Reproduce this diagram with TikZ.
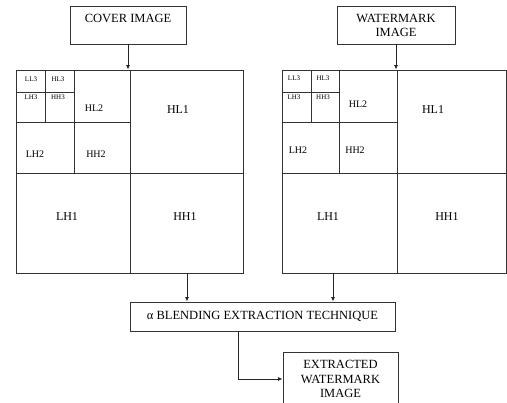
\documentclass[tikz,border=0pt]{standalone}
\usepackage{fontspec}
\setmainfont{Liberation Serif}
\usetikzlibrary{arrows.meta}
\begin{document}
\begin{tikzpicture}[x=1pt,y=-1pt,
 box/.style={draw=black!80, line width=0.9pt, rectangle, inner sep=0pt, align=center, font=\fontsize{12.5}{14}\selectfont},
 grid/.style={draw=black!80, line width=0.9pt},
 big/.style={font=\fontsize{12}{14}\selectfont, inner sep=0pt},
 mid/.style={font=\fontsize{10}{12}\selectfont, inner sep=0pt},
 small/.style={font=\fontsize{7}{8}\selectfont, inner sep=0pt},
 arr/.style={draw=black!85, line width=0.9pt, -{Latex[length=4.5pt,width=4pt]}}]
\useasboundingbox (0,0) rectangle (507,403);
\clip (0,0) rectangle (507,403);
% top boxes
\node[box, minimum width=116, minimum height=38, text depth=14pt] (cover) at (128,25) {COVER IMAGE};
\node[box, minimum width=118, minimum height=38] (wm) at (396,25) {WATERMARK\\IMAGE};
% big boxes
\node[box, minimum width=227, minimum height=203] (L) at (129.5,171.5) {};
\node[box, minimum width=224, minimum height=203] (R) at (394,171.5) {};
% left grid
\draw[grid] (130,70) -- (130,273);
\draw[grid] (16,173) -- (243,173);
\draw[grid] (74,70) -- (74,173);
\draw[grid] (16,122) -- (130,122);
\draw[grid] (45,70) -- (45,122);
\draw[grid] (16,92) -- (74,92);
% right grid
\draw[grid] (397,70) -- (397,273);
\draw[grid] (282,173) -- (506,173);
\draw[grid] (339,70) -- (339,173);
\draw[grid] (282,122) -- (397,122);
\draw[grid] (311,70) -- (311,122);
\draw[grid] (282,92) -- (339,92);
% left labels
\node[small] (lll3) at (31,79) {LL3};
\node[small] (lhl3) at (58,79) {HL3};
\node[small] (llh3) at (31,97) {LH3};
\node[small] (lhh3) at (58,97) {HH3};
\node[mid] (lhl2) at (94,108) {HL2};
\node[mid] (llh2) at (35,154) {LH2};
\node[mid] (lhh2) at (96,154) {HH2};
\node[big] (lhl1) at (178,110) {HL1};
\node[big] (llh1) at (67,217) {LH1};
\node[big] (lhh1) at (185,217) {HH1};
% right labels
\node[small] (rll3) at (294,78) {LL3};
\node[small] (rhl3) at (323,78) {HL3};
\node[small] (rlh3) at (294,97) {LH3};
\node[small] (rhh3) at (323,97) {HH3};
\node[mid] (rhl2) at (358,104) {HL2};
\node[mid] (rlh2) at (298,150) {LH2};
\node[mid] (rhh2) at (355,150) {HH2};
\node[big] (rhl1) at (433,110) {HL1};
\node[big] (rlh1) at (328,217) {LH1};
\node[big] (rhh1) at (447,217) {HH1};
% bottom boxes
\node[box, minimum width=265, minimum height=29] (blend) at (262.5,316.5) {α BLENDING EXTRACTION TECHNIQUE};
\node[box, minimum width=115, minimum height=54, font=\fontsize{12.5}{14.5}\selectfont] (ext) at (340.5,379) {EXTRACTED\\WATERMARK\\IMAGE};
% arrows
\draw[arr] (cover.south) -- (cover.south |- L.north);
\draw[arr] (wm.south) -- (wm.south |- R.north);
\draw[arr] ([xshift=57.5pt]L.south) -- ([xshift=57.5pt]L.south |- blend.north);
\draw[arr] ([xshift=-61pt]R.south) -- ([xshift=-61pt]R.south |- blend.north);
\draw[arr] ([xshift=-24.5pt]blend.south) |- (ext.west);
\end{tikzpicture}
\end{document}
